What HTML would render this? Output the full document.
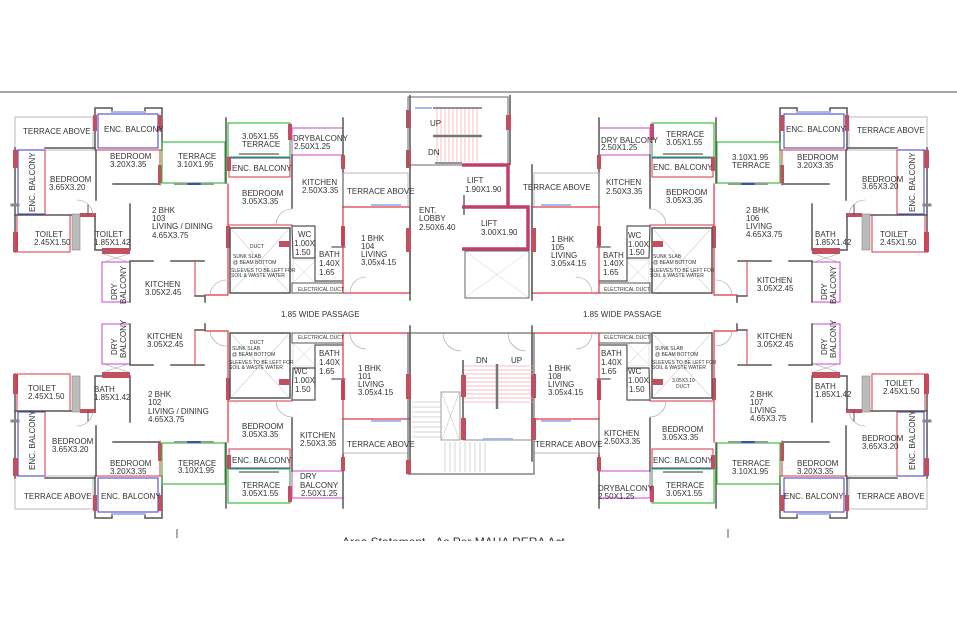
<!DOCTYPE html>
<html><head><meta charset="utf-8"><style>
html,body{margin:0;padding:0;background:#fff;width:957px;height:625px;overflow:hidden}
svg text{font-family:"Liberation Sans",sans-serif;fill:#333;font-size:8px}
.s{font-size:5px}
</style></head><body>
<svg width="957" height="625" viewBox="0 0 957 625" xmlns="http://www.w3.org/2000/svg">
<defs>
<g id="Q" fill="none" stroke-linecap="square">
  <rect x="15" y="117" width="78" height="33" stroke="#aaa" stroke-width="0.8"/>
  <path d="M95 150 V108 H112 V112 H145 V108 H162 V150" stroke="#555" stroke-width="1.5"/>
  <rect x="98" y="114" width="60" height="34" stroke="#3838c8" stroke-width="1"/>
  <line x1="112" y1="112" x2="145" y2="112" stroke="#a8b8e8" stroke-width="2"/>
  <rect x="93" y="115" width="4" height="16" fill="#c05060" stroke="none"/>
  <rect x="158" y="115" width="4" height="16" fill="#c05060" stroke="none"/>
  <line x1="95" y1="150" x2="162" y2="150" stroke="#e03040" stroke-width="1"/>
  <line x1="96" y1="150" x2="96" y2="200" stroke="#555" stroke-width="1.5"/>
  <line x1="113" y1="184" x2="160" y2="184" stroke="#555" stroke-width="1.5"/>
  <line x1="160" y1="150" x2="160" y2="185" stroke="#e03040" stroke-width="1"/>
  <rect x="158" y="165" width="4" height="18" fill="#c05060" stroke="none"/>
  <rect x="162" y="142" width="63" height="41" stroke="#3cbf3c" stroke-width="1.2"/>
  <line x1="175" y1="184" x2="213" y2="184" stroke="#999" stroke-width="2"/>
  <line x1="188" y1="184" x2="200" y2="184" stroke="#2a2acc" stroke-width="1.5"/>
  <path d="M15 148 V252" stroke="#555" stroke-width="1.5"/>
  <rect x="18" y="150" width="27" height="64" stroke="#3838c8" stroke-width="1"/>
  <line x1="45" y1="148" x2="95" y2="148" stroke="#555" stroke-width="1.5"/>
  <line x1="45" y1="150" x2="45" y2="214" stroke="#e03040" stroke-width="1"/>
  <rect x="13" y="150" width="5" height="18" fill="#c05060" stroke="none"/>
  <rect x="13" y="232" width="5" height="20" fill="#c05060" stroke="none"/>
  <line x1="12" y1="205" x2="18" y2="205" stroke="#888" stroke-width="3"/>
  <rect x="17" y="215" width="53" height="37" stroke="#e03040" stroke-width="1"/>
  <line x1="15" y1="215" x2="95" y2="215" stroke="#555" stroke-width="1.5"/>
  <rect x="72" y="214" width="8" height="36" fill="#bbb" stroke="#888" stroke-width="0.6"/>
  <rect x="80" y="213" width="16" height="4" fill="#c05060" stroke="none"/>
  <path d="M95 217 V250 H130 V204" stroke="#555" stroke-width="1.5"/>
  <line x1="88" y1="205" x2="88" y2="215" stroke="#555" stroke-width="1"/>
  <path d="M77 200 A16 16 0 0 1 93 215" stroke="#999" stroke-width="0.6"/>
  <rect x="102" y="262" width="28" height="40" stroke="#d040d0" stroke-width="1"/>
  <rect x="102" y="248" width="28" height="6" fill="#c05060" stroke="none"/>
  <path d="M104 254 L128 262 M128 254 L104 262" stroke="#999" stroke-width="0.5"/>
  <line x1="130" y1="262" x2="130" y2="302" stroke="#555" stroke-width="1.5"/>
  <line x1="130" y1="261" x2="153" y2="261" stroke="#555" stroke-width="1.5"/>
  <line x1="171" y1="261" x2="204" y2="261" stroke="#555" stroke-width="1.5"/>
  <line x1="195" y1="262" x2="195" y2="296" stroke="#e03040" stroke-width="1"/>
  <path d="M195 296 H205 V302" stroke="#555" stroke-width="1.5"/>
  <path d="M228 184 V295 H205" stroke="#e03040" stroke-width="1.2"/>
  <path d="M210 296 A16 16 0 0 1 226 280" stroke="#999" stroke-width="0.6"/>
  <rect x="226" y="226" width="4" height="22" fill="#c05060" stroke="none"/>
  <rect x="228" y="123" width="62" height="34" stroke="#3cbf3c" stroke-width="1.2"/>
  <line x1="226" y1="118" x2="226" y2="183" stroke="#555" stroke-width="1.5"/>
  <rect x="288" y="124" width="4" height="16" fill="#c05060" stroke="none"/>
  <line x1="240" y1="154" x2="278" y2="154" stroke="#999" stroke-width="2"/>
  <rect x="292" y="128" width="51" height="27" stroke="#d040d0" stroke-width="1"/>
  <line x1="343" y1="118" x2="343" y2="207" stroke="#555" stroke-width="1.5"/>
  <rect x="341" y="155" width="4" height="14" fill="#c05060" stroke="none"/>
  <rect x="229" y="158" width="61" height="19" stroke="#e03040" stroke-width="1"/>
  <line x1="229" y1="158" x2="290" y2="158" stroke="#3838c8" stroke-width="1"/>
  <rect x="227" y="157" width="4" height="14" fill="#c05060" stroke="none"/>
  <line x1="292" y1="155" x2="292" y2="208" stroke="#555" stroke-width="1.5"/>
  <line x1="229" y1="225" x2="292" y2="225" stroke="#e03040" stroke-width="1"/>
  <path d="M276 225 A16 16 0 0 1 292 209" stroke="#999" stroke-width="0.6"/>
  <rect x="343" y="173" width="65" height="34" stroke="#aaa" stroke-width="0.8"/>
  <line x1="372" y1="205" x2="400" y2="205" stroke="#a8b8e8" stroke-width="2"/>
  <path d="M343 207 H408" stroke="#e03040" stroke-width="1"/>
  <rect x="230" y="228" width="60" height="65" stroke="#555" stroke-width="1.5"/>
  <path d="M232 230 L288 291 M288 230 L232 291" stroke="#aaa" stroke-width="0.5"/>
  <rect x="279" y="241" width="11" height="6" fill="#c05060" stroke="none"/>
  <path d="M292 226 H315 V258 H293 Z" stroke="#555" stroke-width="1.2"/>
  <path d="M293 260 H315 V283 H293 Z" stroke="#ccc" stroke-width="0.6"/>
  <path d="M294 262 L314 282 M314 262 L294 282" stroke="#ccc" stroke-width="0.5"/>
  <path d="M315 240 V281 H343" stroke="#555" stroke-width="1.2"/>
  <line x1="332" y1="247" x2="345" y2="247" stroke="#555" stroke-width="1.2"/>
  <rect x="292" y="283" width="51" height="10" stroke="#555" stroke-width="1"/>
  <rect x="341" y="226" width="4" height="20" fill="#c05060" stroke="none"/>
  <rect x="343" y="207" width="67" height="86" stroke="#e03040" stroke-width="1.2"/>
  <line x1="410" y1="165" x2="410" y2="300" stroke="#555" stroke-width="1.5"/>
  <rect x="406" y="228" width="5" height="24" fill="#c05060" stroke="none"/>
  <path d="M350 293 A16 16 0 0 1 366 277" stroke="#999" stroke-width="0.6"/>
</g>
</defs>

<line x1="0" y1="92" x2="957" y2="92" stroke="#888" stroke-width="1.5"/>

<use href="#Q"/>
<use href="#Q" transform="translate(942,0) scale(-1,1)"/>
<use href="#Q" transform="translate(0,626) scale(1,-1)"/>
<use href="#Q" transform="translate(942,626) scale(-1,-1)"/>

<g fill="none">
  <line x1="410" y1="95" x2="410" y2="166" stroke="#555" stroke-width="1.5"/>
  <rect x="406" y="110" width="5" height="18" fill="#c05060"/>
  <rect x="406" y="150" width="5" height="18" fill="#c05060"/>
  <rect x="408" y="97" width="100" height="68" stroke="#666" stroke-width="1"/>
  <line x1="415" y1="108" x2="432" y2="108" stroke="#a8b8e8" stroke-width="2"/>
  <g stroke="#f4a8b0" stroke-width="0.7">
    <line x1="437" y1="108" x2="437" y2="162"/><line x1="441" y1="108" x2="441" y2="162"/><line x1="445" y1="108" x2="445" y2="162"/>
    <line x1="449" y1="108" x2="449" y2="162"/><line x1="453" y1="108" x2="453" y2="162"/><line x1="457" y1="108" x2="457" y2="162"/>
    <line x1="461" y1="108" x2="461" y2="162"/><line x1="465" y1="108" x2="465" y2="162"/><line x1="469" y1="108" x2="469" y2="162"/>
    <line x1="473" y1="108" x2="473" y2="162"/><line x1="477" y1="108" x2="477" y2="162"/>
  </g>
  <line x1="433" y1="108" x2="482" y2="108" stroke="#555" stroke-width="1.2"/>
  <line x1="433" y1="136" x2="482" y2="136" stroke="#777" stroke-width="2.5"/>
  <line x1="435" y1="163" x2="462" y2="163" stroke="#555" stroke-width="1.2"/>
  <path d="M462 165 H508 V206" stroke="#c0406a" stroke-width="3.5"/>
  <path d="M462 207 H528 V249 H462" stroke="#c0406a" stroke-width="3.5"/>
  <line x1="464" y1="195" x2="464" y2="215" stroke="#666" stroke-width="1.5"/>
  <rect x="465" y="251" width="64" height="47" stroke="#666" stroke-width="1"/>
  <path d="M466 252 L528 297 M528 252 L466 297" stroke="#ccc" stroke-width="0.5"/>
  <line x1="510" y1="95" x2="510" y2="165" stroke="#555" stroke-width="1.5"/>
  <rect x="506" y="115" width="5" height="15" fill="#c05060"/>
  <!-- bottom core -->
  <rect x="408" y="333" width="126" height="141" stroke="#666" stroke-width="1.2"/>
  <g stroke="#f4a8b0" stroke-width="0.7">
    <line x1="463" y1="366" x2="533" y2="366"/><line x1="463" y1="370" x2="533" y2="370"/><line x1="463" y1="374" x2="533" y2="374"/>
    <line x1="463" y1="378" x2="533" y2="378"/><line x1="463" y1="382" x2="533" y2="382"/><line x1="463" y1="386" x2="533" y2="386"/>
    <line x1="463" y1="390" x2="533" y2="390"/><line x1="463" y1="394" x2="533" y2="394"/><line x1="463" y1="398" x2="533" y2="398"/>
    <line x1="463" y1="402" x2="533" y2="402"/>
  </g>
  <line x1="497" y1="364" x2="497" y2="409" stroke="#777" stroke-width="2.5"/>
  <line x1="463" y1="360" x2="463" y2="440" stroke="#555" stroke-width="1.5"/>
  <line x1="463" y1="440" x2="533" y2="440" stroke="#888" stroke-width="1"/>
  <line x1="483" y1="439" x2="513" y2="439" stroke="#a8b8e8" stroke-width="2"/>
  <rect x="461" y="375" width="5" height="22" fill="#c05060"/>
  <rect x="461" y="418" width="5" height="22" fill="#c05060"/>
  <rect x="531" y="375" width="5" height="22" fill="#c05060"/>
  <rect x="531" y="418" width="5" height="22" fill="#c05060"/>
  <rect x="406" y="375" width="5" height="24" fill="#c05060"/>
  <rect x="406" y="460" width="5" height="14" fill="#c05060"/>
  <rect x="441" y="392" width="19" height="48" stroke="#888" stroke-width="0.8"/>
  <path d="M442 393 L459 439 M459 393 L442 439" stroke="#bbb" stroke-width="0.5"/>
  <g stroke="#aaa" stroke-width="0.5">
    <line x1="412" y1="402" x2="441" y2="402"/><line x1="412" y1="407" x2="441" y2="407"/><line x1="412" y1="412" x2="441" y2="412"/>
    <line x1="412" y1="417" x2="441" y2="417"/><line x1="412" y1="422" x2="441" y2="422"/><line x1="412" y1="427" x2="441" y2="427"/>
    <line x1="412" y1="432" x2="441" y2="432"/><line x1="412" y1="437" x2="441" y2="437"/>
    <line x1="445" y1="442" x2="445" y2="472"/><line x1="450" y1="442" x2="450" y2="472"/><line x1="455" y1="442" x2="455" y2="472"/>
    <line x1="460" y1="442" x2="460" y2="472"/><line x1="465" y1="442" x2="465" y2="472"/><line x1="470" y1="442" x2="470" y2="472"/>
    <line x1="475" y1="442" x2="475" y2="472"/><line x1="480" y1="442" x2="480" y2="472"/><line x1="485" y1="442" x2="485" y2="472"/>
  </g>
  <path d="M443 333 A18 18 0 0 0 461 351" stroke="#999" stroke-width="0.6"/>
  <path d="M508 333 A18 18 0 0 0 526 351" stroke="#999" stroke-width="0.6"/>
</g>

<line x1="177" y1="529" x2="177" y2="538" stroke="#555" stroke-width="1"/>
<line x1="728" y1="529" x2="728" y2="538" stroke="#555" stroke-width="1"/>
<text x="342" y="546" style="font-size:12px;fill:#333">Area Statement - As Per MAHA RERA Act</text>
<rect x="300" y="541" width="300" height="20" fill="#fff"/>

<text x="23" y="134">TERRACE ABOVE</text>
<text x="104" y="132">ENC. BALCONY</text>
<text x="110" y="159">BEDROOM</text><text x="110" y="167">3.20X3.35</text>
<text x="178" y="159">TERRACE</text><text x="177" y="167">3.10X1.95</text>
<text x="242" y="139">3.05X1.55</text><text x="242" y="147">TERRACE</text>
<text x="293" y="141">DRYBALCONY</text><text x="294" y="149">2.50X1.25</text>
<text x="232" y="171">ENC. BALCONY</text>
<text x="50" y="182">BEDROOM</text><text x="49" y="190">3.65X3.20</text>
<text transform="translate(35,212) rotate(-90)">ENC. BALCONY</text>
<text x="302" y="185">KITCHEN</text><text x="302" y="193">2.50X3.35</text>
<text x="242" y="196">BEDROOM</text><text x="242" y="204">3.05X3.35</text>
<text x="347" y="194">TERRACE ABOVE</text>
<text x="152" y="213">2 BHK</text><text x="152" y="221">103</text><text x="152" y="229">LIVING / DINING</text><text x="152" y="238">4.65X3.75</text>
<text x="419" y="213">ENT.</text><text x="419" y="221">LOBBY</text><text x="419" y="230">2.50X6.40</text>
<text x="35" y="237">TOILET</text><text x="34" y="245">2.45X1.50</text>
<text x="95" y="237">TOILET</text><text x="94" y="245">1.85X1.42</text>
<text x="298" y="237">WC</text><text x="294" y="246">1.00X</text><text x="295" y="255">1.50</text>
<text x="319" y="257">BATH</text><text x="319" y="266">1.40X</text><text x="319" y="275">1.65</text>
<text x="361" y="241">1 BHK</text><text x="361" y="249">104</text><text x="361" y="257">LIVING</text><text x="361" y="265">3.05x4.15</text>
<text class="s" x="250" y="248">DUCT</text><text class="s" x="233" y="258">SUNK SLAB</text><text class="s" x="233" y="264">@ BEAM BOTTOM</text>
<text class="s" x="231" y="272">SLEEVES TO BE LEFT FOR</text><text class="s" x="231" y="277">SOIL &amp; WASTE WATER</text>
<text class="s" x="298" y="291">ELECTRICAL DUCT</text>
<text x="145" y="287">KITCHEN</text><text x="145" y="295">3.05X2.45</text>
<text transform="translate(117,300) rotate(-90)">DRY</text><text transform="translate(126,304) rotate(-90)">BALCONY</text>
<text x="281" y="317">1.85 WIDE PASSAGE</text>
<text x="430" y="126">UP</text><text x="428" y="155">DN</text>
<text x="467" y="183">LIFT</text><text x="465" y="192">1.90X1.90</text>
<text x="481" y="226">LIFT</text><text x="481" y="235">3.00X1.90</text>

<text x="601" y="143">DRY BALCONY</text><text x="601" y="150">2.50X1.25</text>
<text x="666" y="137">TERRACE</text><text x="666" y="145">3.05X1.55</text>
<text x="653" y="170">ENC. BALCONY</text>
<text x="732" y="160">3.10X1.95</text><text x="732" y="168">TERRACE</text>
<text x="786" y="132">ENC. BALCONY</text><text x="857" y="133">TERRACE ABOVE</text>
<text x="797" y="160">BEDROOM</text><text x="797" y="168">3.20X3.35</text>
<text x="862" y="182">BEDROOM</text><text x="862" y="189">3.65X3.20</text>
<text transform="translate(915,212) rotate(-90)">ENC. BALCONY</text>
<text x="523" y="190">TERRACE ABOVE</text>
<text x="606" y="185">KITCHEN</text><text x="606" y="194">2.50X3.35</text>
<text x="666" y="195">BEDROOM</text><text x="666" y="203">3.05X3.35</text>
<text x="746" y="213">2 BHK</text><text x="746" y="221">106</text><text x="746" y="229">LIVING</text><text x="746" y="237">4.65X3.75</text>
<text x="551" y="242">1 BHK</text><text x="551" y="250">105</text><text x="551" y="258">LIVING</text><text x="551" y="266">3.05x4.15</text>
<text x="628" y="238">WC</text><text x="628" y="247">1.00X</text><text x="629" y="255">1.50</text>
<text x="603" y="258">BATH</text><text x="603" y="266">1.40X</text><text x="603" y="275">1.65</text>
<text x="815" y="237">BATH</text><text x="815" y="245">1.85X1.42</text>
<text x="880" y="237">TOILET</text><text x="880" y="245">2.45X1.50</text>
<text class="s" x="653" y="258">SUNK SLAB</text><text class="s" x="653" y="264">@ BEAM BOTTOM</text>
<text class="s" x="650" y="272">SLEEVES TO BE LEFT FOR</text><text class="s" x="650" y="277">SOIL &amp; WASTE WATER</text>
<text class="s" x="604" y="291">ELECTRICAL DUCT</text>
<text x="757" y="283">KITCHEN</text><text x="757" y="291">3.05X2.45</text>
<text transform="translate(827,300) rotate(-90)">DRY</text><text transform="translate(836,304) rotate(-90)">BALCONY</text>
<text x="583" y="317">1.85 WIDE PASSAGE</text>

<text class="s" x="298" y="339">ELECTRICAL DUCT</text>
<text x="147" y="339">KITCHEN</text><text x="147" y="347">3.05X2.45</text>
<text transform="translate(117,355) rotate(-90)">DRY</text><text transform="translate(126,358) rotate(-90)">BALCONY</text>
<text class="s" x="250" y="344">DUCT</text><text class="s" x="232" y="350">SUNK SLAB</text><text class="s" x="232" y="356">@ BEAM BOTTOM</text>
<text class="s" x="229" y="364">SLEEVES TO BE LEFT FOR</text><text class="s" x="229" y="369">SOIL &amp; WASTE WATER</text>
<text x="319" y="356">BATH</text><text x="319" y="365">1.40X</text><text x="319" y="374">1.65</text>
<text x="294" y="374">WC</text><text x="294" y="383">1.00X</text><text x="295" y="392">1.50</text>
<text x="358" y="371">1 BHK</text><text x="358" y="379">101</text><text x="358" y="387">LIVING</text><text x="358" y="395">3.05x4.15</text>
<text x="28" y="391">TOILET</text><text x="28" y="399">2.45X1.50</text>
<text x="94" y="392">BATH</text><text x="94" y="400">1.85X1.42</text>
<text x="148" y="397">2 BHK</text><text x="148" y="405">102</text><text x="148" y="414">LIVING / DINING</text><text x="148" y="422">4.65X3.75</text>
<text transform="translate(35,470) rotate(-90)">ENC. BALCONY</text>
<text x="52" y="444">BEDROOM</text><text x="52" y="452">3.65X3.20</text>
<text x="242" y="429">BEDROOM</text><text x="242" y="437">3.05X3.35</text>
<text x="300" y="438">KITCHEN</text><text x="300" y="446">2.50X3.35</text>
<text x="347" y="447">TERRACE ABOVE</text>
<text x="232" y="463">ENC. BALCONY</text>
<text x="110" y="466">BEDROOM</text><text x="110" y="474">3.20X3.35</text>
<text x="178" y="466">TERRACE</text><text x="178" y="473">3.10X1.95</text>
<text x="300" y="479">DRY</text><text x="300" y="488">BALCONY</text><text x="301" y="496">2.50X1.25</text>
<text x="242" y="488">TERRACE</text><text x="242" y="496">3.05X1.55</text>
<text x="24" y="499">TERRACE ABOVE</text><text x="101" y="499">ENC. BALCONY</text>
<text x="476" y="363">DN</text><text x="511" y="363">UP</text>

<text class="s" x="604" y="339">ELECTRICAL DUCT</text>
<text x="601" y="356">BATH</text><text x="601" y="365">1.40X</text><text x="601" y="374">1.65</text>
<text x="628" y="374">WC</text><text x="628" y="383">1.00X</text><text x="629" y="392">1.50</text>
<text x="548" y="371">1 BHK</text><text x="548" y="379">108</text><text x="548" y="387">LIVING</text><text x="548" y="395">3.05x4.15</text>
<text class="s" x="655" y="350">SUNK SLAB</text><text class="s" x="655" y="356">@ BEAM BOTTOM</text>
<text class="s" x="652" y="364">SLEEVES TO BE LEFT FOR</text><text class="s" x="652" y="369">SOIL &amp; WASTE WATER</text>
<text class="s" x="672" y="382">3.05X3.10</text><text class="s" x="676" y="388">DUCT</text>
<text x="757" y="339">KITCHEN</text><text x="757" y="347">3.05X2.45</text>
<text transform="translate(827,355) rotate(-90)">DRY</text><text transform="translate(836,358) rotate(-90)">BALCONY</text>
<text x="815" y="389">BATH</text><text x="815" y="397">1.85X1.42</text>
<text x="885" y="386">TOILET</text><text x="883" y="394">2.45X1.50</text>
<text x="750" y="397">2 BHK</text><text x="750" y="405">107</text><text x="750" y="413">LIVING</text><text x="750" y="421">4.65X3.75</text>
<text transform="translate(915,470) rotate(-90)">ENC. BALCONY</text>
<text x="862" y="441">BEDROOM</text><text x="862" y="449">3.65X3.20</text>
<text x="797" y="466">BEDROOM</text><text x="797" y="474">3.20X3.35</text>
<text x="732" y="466">TERRACE</text><text x="732" y="474">3.10X1.95</text>
<text x="784" y="499">ENC. BALCONY</text><text x="857" y="499">TERRACE ABOVE</text>
<text x="535" y="447">TERRACE ABOVE</text>
<text x="604" y="436">KITCHEN</text><text x="604" y="444">2.50X3.35</text>
<text x="662" y="432">BEDROOM</text><text x="662" y="440">3.05X3.35</text>
<text x="653" y="463">ENC. BALCONY</text>
<text x="598" y="491">DRYBALCONY</text><text x="598" y="499">2.50X1.25</text>
<text x="666" y="488">TERRACE</text><text x="666" y="496">3.05X1.55</text>
</svg>
</body></html>
